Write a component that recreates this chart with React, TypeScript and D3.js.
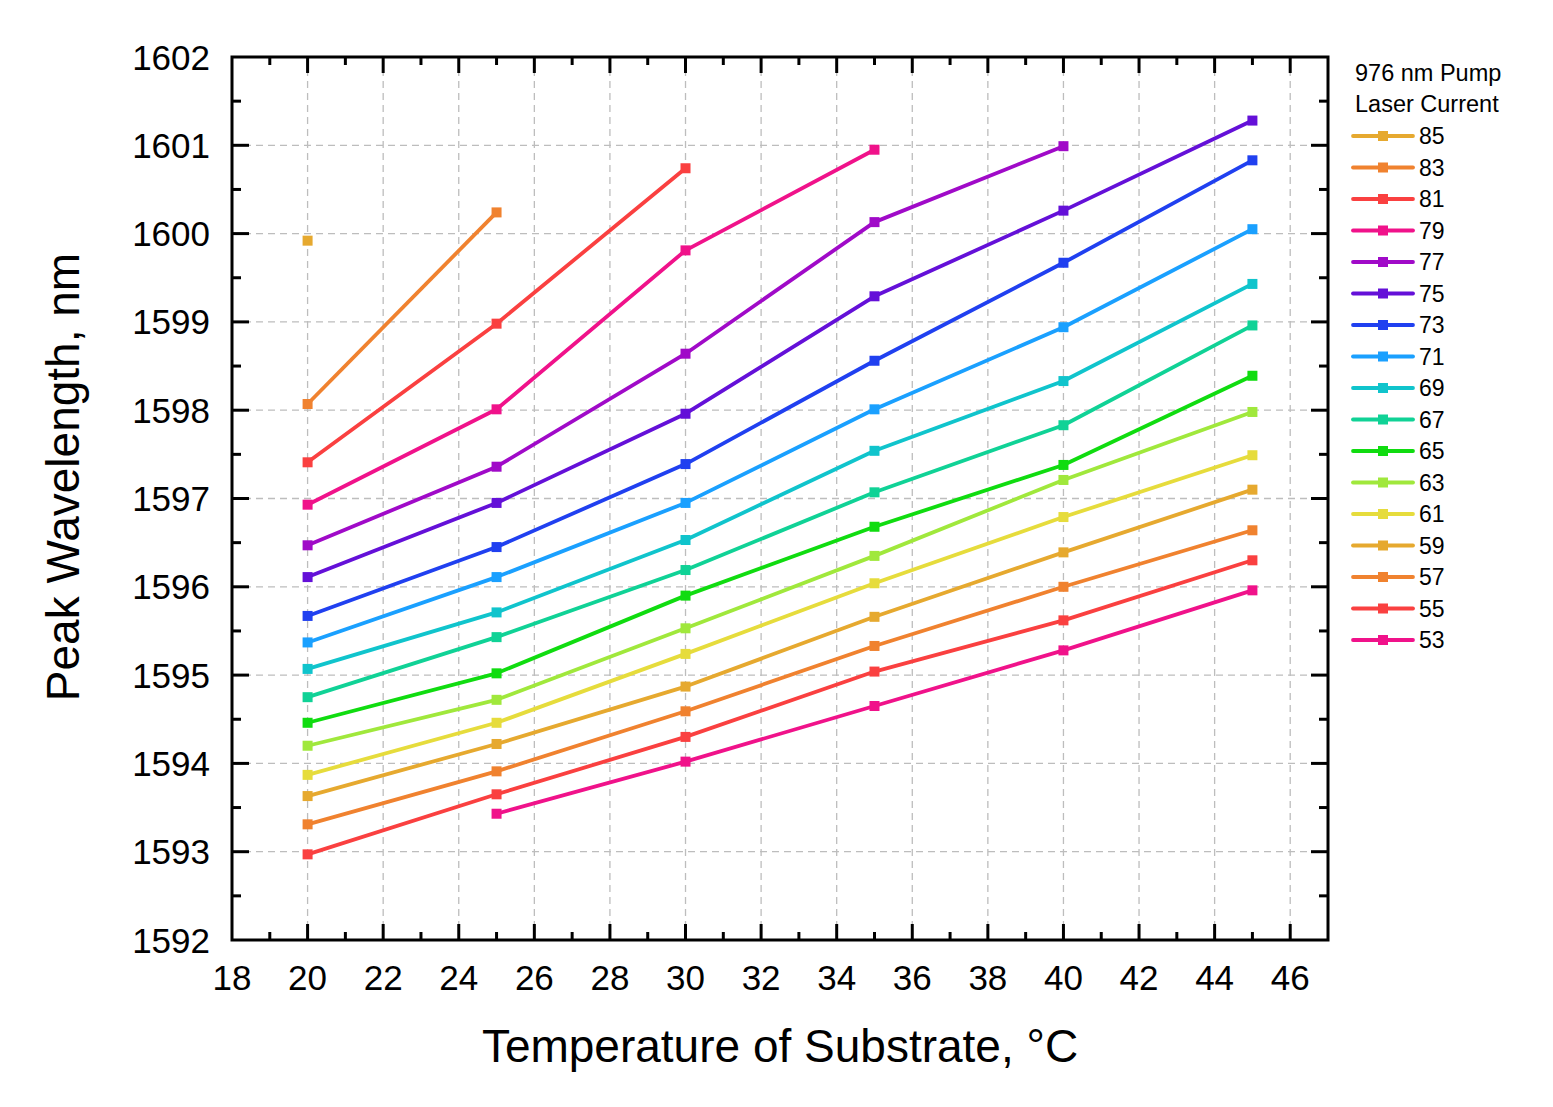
import React from "react";
import * as d3 from "d3";

const temps = [20, 25, 30, 35, 40, 45];
const currents = [85, 83, 81, 79, 77, 75, 73, 71, 69, 67, 65, 63, 61, 59, 57, 55, 53];
const colors = [
  "#E6A92F", "#F0822F", "#FA4040", "#F0128A", "#A00AC8", "#6410D8", "#2040F0",
  "#1AA0FF", "#10C4CC", "#10D296", "#10DC10", "#A0E83C", "#E6DC3C",
  "#E6A92F", "#F0822F", "#FA4040", "#F0128A",
];
// wavelength per current, indexed by temps (null = not measured)
const wl85 = [1599.92, null, null, null, null, null];
const wl83 = [1598.07, 1600.24, null, null, null, null];
const wl81 = [1597.41, 1598.98, 1600.74, null, null, null];
const wl79 = [1596.93, 1598.01, 1599.81, 1600.95, null, null];
const wl77 = [1596.47, 1597.36, 1598.64, 1600.13, 1600.99, null];
const wl75 = [1596.11, 1596.95, 1597.96, 1599.29, 1600.26, 1601.28];
const wl73 = [1595.67, 1596.45, 1597.39, 1598.56, 1599.67, 1600.83];
const wl71 = [1595.37, 1596.11, 1596.95, 1598.01, 1598.94, 1600.05];
const wl69 = [1595.07, 1595.71, 1596.53, 1597.54, 1598.33, 1599.43];
const wl67 = [1594.75, 1595.43, 1596.19, 1597.07, 1597.83, 1598.96];
const wl65 = [1594.46, 1595.02, 1595.90, 1596.68, 1597.38, 1598.39];
const wl63 = [1594.20, 1594.72, 1595.53, 1596.35, 1597.21, 1597.98];
const wl61 = [1593.87, 1594.46, 1595.24, 1596.04, 1596.79, 1597.49];
const wl59 = [1593.63, 1594.22, 1594.87, 1595.66, 1596.39, 1597.10];
const wl57 = [1593.31, 1593.91, 1594.59, 1595.33, 1596.00, 1596.64];
const wl55 = [1592.97, 1593.65, 1594.30, 1595.04, 1595.62, 1596.30];
const wl53 = [null, 1593.43, 1594.02, 1594.65, 1595.28, 1595.96];
const wavelengths = [wl85, wl83, wl81, wl79, wl77, wl75, wl73, wl71, wl69, wl67, wl65, wl63, wl61, wl59, wl57, wl55, wl53];

const xMajor = [18, 20, 22, 24, 26, 28, 30, 32, 34, 36, 38, 40, 42, 44, 46];
const xMinor = [19, 21, 23, 25, 27, 29, 31, 33, 35, 37, 39, 41, 43, 45];
const yMajor = [1592, 1593, 1594, 1595, 1596, 1597, 1598, 1599, 1600, 1601, 1602];
const yMinor = [1592.5, 1593.5, 1594.5, 1595.5, 1596.5, 1597.5, 1598.5, 1599.5, 1600.5, 1601.5];

const W = 1553, H = 1107;
const L = 232, R = 1328, T = 57, B = 940;
const FONT = "'Liberation Sans', Arial, sans-serif";

export default function App() {
  const x = d3.scaleLinear().domain([18, 47]).range([L, R]);
  const y = d3.scaleLinear().domain([1592, 1602]).range([B, T]);
  const line = d3
    .line<[number, number | null]>()
    .defined((d) => d[1] != null)
    .x((d) => x(d[0]))
    .y((d) => y(d[1] as number));

  const ms = 10;
  const lw = 3.8;
  return (
    <svg width={W} height={H} style={{ position: "absolute", left: 0, top: 0, background: "#fff" }} fontFamily={FONT}>
      <rect x={0} y={0} width={W} height={H} fill="#fff" />
      {/* grid */}
      {xMajor.filter((v) => v > 18).map((v) => (
        <line key={"gx" + v} x1={x(v)} x2={x(v)} y1={T} y2={B} stroke="#BDBDBD" strokeWidth={1.3} strokeDasharray="7,5" />
      ))}
      {yMajor.filter((v) => v > 1592 && v < 1602).map((v) => (
        <line key={"gy" + v} x1={L} x2={R} y1={y(v)} y2={y(v)} stroke="#BDBDBD" strokeWidth={1.3} strokeDasharray="7,5" />
      ))}
      {/* series */}
      {wavelengths.map((vals, i) => {
        const pts: [number, number | null][] = temps.map((t, j) => [t, vals[j]]);
        return (
          <g key={"s" + currents[i]}>
            <path d={line(pts) || ""} fill="none" stroke={colors[i]} strokeWidth={lw} strokeLinejoin="round" />
            {pts.filter((p) => p[1] != null).map((p) => (
              <rect key={p[0]} x={x(p[0]) - ms / 2} y={y(p[1] as number) - ms / 2} width={ms} height={ms} fill={colors[i]} />
            ))}
          </g>
        );
      })}
      {/* ticks */}
      {xMajor.filter((v) => v > 18).map((v) => (
        <g key={"tx" + v}>
          <line x1={x(v)} x2={x(v)} y1={B} y2={B - 16} stroke="#000" strokeWidth={3} />
          <line x1={x(v)} x2={x(v)} y1={T} y2={T + 16} stroke="#000" strokeWidth={3} />
        </g>
      ))}
      {xMinor.map((v) => (
        <g key={"mx" + v}>
          <line x1={x(v)} x2={x(v)} y1={B} y2={B - 8} stroke="#000" strokeWidth={3} />
          <line x1={x(v)} x2={x(v)} y1={T} y2={T + 8} stroke="#000" strokeWidth={3} />
        </g>
      ))}
      {yMajor.filter((v) => v > 1592 && v < 1602).map((v) => (
        <g key={"ty" + v}>
          <line x1={L} x2={L + 17} y1={y(v)} y2={y(v)} stroke="#000" strokeWidth={3} />
          <line x1={R} x2={R - 17} y1={y(v)} y2={y(v)} stroke="#000" strokeWidth={3} />
        </g>
      ))}
      {yMinor.map((v) => (
        <g key={"my" + v}>
          <line x1={L} x2={L + 9} y1={y(v)} y2={y(v)} stroke="#000" strokeWidth={3} />
          <line x1={R} x2={R - 9} y1={y(v)} y2={y(v)} stroke="#000" strokeWidth={3} />
        </g>
      ))}
      <rect x={L} y={T} width={R - L} height={B - T} fill="none" stroke="#000" strokeWidth={3} />
      {/* tick labels */}
      {xMajor.map((v) => (
        <text key={"lx" + v} x={x(v)} y={B + 50} textAnchor="middle" fontSize={35} fill="#000">{v}</text>
      ))}
      {yMajor.map((v) => (
        <text key={"ly" + v} x={L - 22} y={y(v) + 12.5} textAnchor="end" fontSize={35} fill="#000">{v}</text>
      ))}
      {/* axis titles */}
      <text x={780} y={1062} textAnchor="middle" fontSize={46} fill="#000">Temperature of Substrate, °C</text>
      <text transform={`translate(79,477) rotate(-90)`} textAnchor="middle" fontSize={46} fill="#000">Peak Wavelength, nm</text>
      {/* legend */}
      <text x={1355} y={81} fontSize={23.5} fill="#000">976 nm Pump</text>
      <text x={1355} y={112} fontSize={23.5} fill="#000">Laser Current</text>
      {currents.map((c, i) => {
        const ly = 136 + i * 31.5;
        return (
          <g key={"lg" + c}>
            <line x1={1353} x2={1413} y1={ly} y2={ly} stroke={colors[i]} strokeWidth={lw} strokeLinecap="round" />
            <rect x={1383 - ms / 2} y={ly - ms / 2} width={ms} height={ms} fill={colors[i]} />
            <text x={1419} y={ly + 8} fontSize={23} fill="#000">{c}</text>
          </g>
        );
      })}
    </svg>
  );
}
